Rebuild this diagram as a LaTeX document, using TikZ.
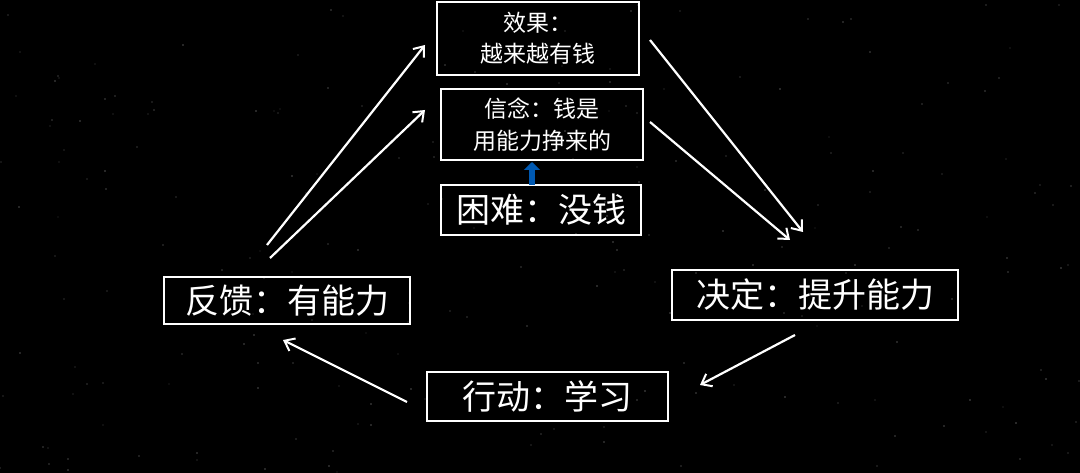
\documentclass[tikz,border=0pt]{standalone}
\usepackage{fontspec}
\newfontfamily\cjk{Noto Sans CJK SC}
\usetikzlibrary{arrows.meta}
\begin{document}
\begin{tikzpicture}[x=1pt,y=-1pt,
  box/.style={draw=white,line width=1.6pt,text=white,font=\cjk,inner sep=0pt,align=center},
  arr/.style={draw=white,line width=2.2pt,-{Straight Barb[length=9pt,width=14pt,line width=2pt]}}]
\fill[black] (0,0) rectangle (1080,473);
\useasboundingbox (0,0) rectangle (1080,473);
\pgfmathsetseed{7}
\foreach \i in {1,...,220}{
  \pgfmathsetmacro{\xx}{random(0,1080)}
  \pgfmathsetmacro{\yy}{random(0,473)}
  \pgfmathsetmacro{\gg}{random(20,70)}
  \fill[white!\gg!black] (\xx,\yy) circle (0.7);
}
\node[box,minimum width=202,minimum height=73,font=\cjk\fontsize{23}{31}\selectfont] (eff) at (538,38.5) {效果：\\越来越有钱};
\node[box,minimum width=202,minimum height=71,font=\cjk\fontsize{23}{32}\selectfont] (bel) at (542,124.5) {信念：钱是\\用能力挣来的};
\node[box,minimum width=200,minimum height=50,font=\cjk\fontsize{34}{36}\selectfont] (dif) at (541,210) {困难：没钱};
\node[box,minimum width=246,minimum height=47,font=\cjk\fontsize{34}{36}\selectfont] (fb) at (287,300.5) {反馈：有能力};
\node[box,minimum width=286,minimum height=50,font=\cjk\fontsize{34}{36}\selectfont] (dec) at (815,295) {决定：提升能力};
\node[box,minimum width=241,minimum height=49,font=\cjk\fontsize{34}{36}\selectfont] (act) at (547.5,396.5) {行动：学习};
\draw[draw=blue!50!cyan!70!black,line width=6pt,-{Triangle[length=8pt,width=16pt]}] (532,185) -- (532,162);
\coordinate (a1) at (267,245); \coordinate (a1e) at (425,45);
\coordinate (a2) at (270,258); \coordinate (a2e) at (425,110);
\coordinate (b1) at (650,40); \coordinate (b1e) at (803,232);
\coordinate (b2) at (650,122); \coordinate (b2e) at (790,240);
\coordinate (c1) at (795,335); \coordinate (c1e) at (700,385);
\coordinate (d1) at (407,402); \coordinate (d1e) at (283,340);
\draw[arr] (a1) -- (a1e);
\draw[arr] (a2) -- (a2e);
\draw[arr] (b1) -- (b1e);
\draw[arr] (b2) -- (b2e);
\draw[arr] (c1) -- (c1e);
\draw[arr] (d1) -- (d1e);
\end{tikzpicture}
\end{document}
